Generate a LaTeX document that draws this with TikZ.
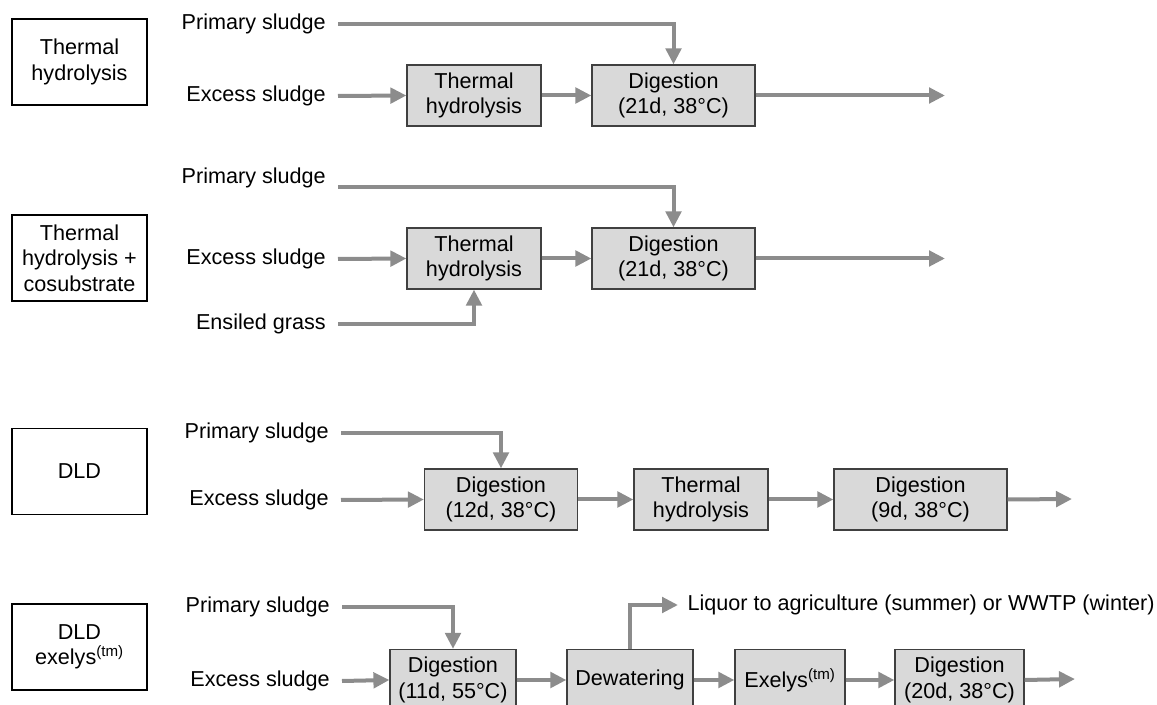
\documentclass[tikz,border=0pt]{standalone}
\usepackage{fontspec}
\setmainfont{Liberation Sans}
\usetikzlibrary{arrows.meta,positioning}

\definecolor{flowgray}{RGB}{140,140,140}
\definecolor{boxgray}{RGB}{217,217,217}
\definecolor{boxline}{RGB}{64,64,64}

\begin{document}
\begin{tikzpicture}[x=0.75pt,y=-0.75pt,
    every node/.style={font=\fontsize{16.2}{19}\selectfont},
    proc/.style={draw=boxline,fill=boxgray,line width=0.9pt,align=center,minimum height=45.75pt,inner sep=0pt},
    variant/.style={draw=black,line width=0.9pt,align=center,minimum width=101.25pt,minimum height=64.5pt},
    src/.style={inner xsep=9pt,inner ysep=0pt},
    flow/.style={draw=flowgray,line width=3pt,-{Triangle[length=12pt,width=11.5pt]}}]
    \useasboundingbox (0,0) rectangle (1157,705);
    \clip (0,0) rectangle (1157,705);

    % thermal hydrolysis
    \node[variant] (v1) at (79.5,62) {Thermal\\hydrolysis};
    \node[src,anchor=east] (ps1) at (338,24) {Primary sludge};
    \node[src,anchor=east] (es1) at (338,96) {Excess sludge};
    \node[proc,minimum width=100.5pt] (th1) at (474,95.5) {Thermal\\hydrolysis};
    \node[proc,minimum width=122.25pt] (dig1) at (673.5,95.5) {Digestion\\(21d, 38°C)};
    \coordinate (out1) at (945,95.5);
    \draw[flow] (ps1.east) -| (dig1.north);
    \draw[flow] (es1.east) -- (th1.west);
    \draw[flow] (th1.east) -- (dig1.west);
    \draw[flow] (dig1.east) -- (out1);

    % thermal hydrolysis + cosubstrate
    \node[variant] (v2) at (79.5,258) {Thermal\\hydrolysis +\\cosubstrate};
    \node[src,anchor=east] (ps2) at (338,178) {Primary sludge};
    \node[src,anchor=east] (es2) at (338,259) {Excess sludge};
    \node[src,anchor=east] (eg) at (338,324) {Ensiled grass};
    \node[proc,minimum width=100.5pt] (th2) at (474,258.5) {Thermal\\hydrolysis};
    \node[proc,minimum width=122.25pt] (dig2) at (673.5,258.5) {Digestion\\(21d, 38°C)};
    \coordinate (out2) at (945,258.5);
    \draw[flow] ([yshift=-7pt]ps2.east) -| (dig2.north);
    \draw[flow] (es2.east) -- (th2.west);
    \draw[flow] (eg.east) -| (th2.south);
    \draw[flow] (th2.east) -- (dig2.west);
    \draw[flow] (dig2.east) -- (out2);

    % DLD
    \node[variant] (v3) at (79.5,471.5) {DLD};
    \node[src,anchor=east] (ps3) at (341,433) {Primary sludge};
    \node[src,anchor=east] (es3) at (341,500) {Excess sludge};
    \node[proc,minimum width=114.75pt] (dig3) at (501,499.5) {Digestion\\(12d, 38°C)};
    \node[proc,minimum width=100.5pt] (th3) at (701,499.5) {Thermal\\hydrolysis};
    \node[proc,minimum width=129.75pt] (dig3b) at (920.5,499.5) {Digestion\\(9d, 38°C)};
    \coordinate (out3) at (1072,499);
    \draw[flow] (ps3.east) -| (dig3.north);
    \draw[flow] (es3.east) -- (dig3.west);
    \draw[flow] (dig3.east) -- (th3.west);
    \draw[flow] (th3.east) -- (dig3b.west);
    \draw[flow] (dig3b.east) -- (out3);

    % DLD exelys
    \node[variant] (v4) at (79.5,647) {DLD\\exelys\textsuperscript{(tm)}};
    \node[src,anchor=east] (ps4) at (342,607) {Primary sludge};
    \node[src,anchor=east] (es4) at (342,681) {Excess sludge};
    \node[proc,minimum width=94.5pt] (dig4) at (453,680) {Digestion\\(11d, 55°C)};
    \node[proc,minimum width=94.5pt] (dew) at (630,680) {Dewatering};
    \node[proc,minimum width=82.5pt] (exe) at (790,680) {Exelys\textsuperscript{(tm)}};
    \node[proc,minimum width=96.75pt] (dig4b) at (959.5,680) {Digestion\\(20d, 38°C)};
    \node[src,anchor=west,inner xsep=7pt] (liq) at (678,605) {Liquor to agriculture (summer) or WWTP (winter)};
    \coordinate (out4) at (1075,679);
    \draw[flow] (ps4.east) -| (dig4.north);
    \draw[flow] (es4.east) -- (dig4.west);
    \draw[flow] (dig4.east) -- (dew.west);
    \draw[flow] (dew.north) |- (liq.west);
    \draw[flow] (dew.east) -- (exe.west);
    \draw[flow] (exe.east) -- (dig4b.west);
    \draw[flow] (dig4b.east) -- (out4);
\end{tikzpicture}
\end{document}
